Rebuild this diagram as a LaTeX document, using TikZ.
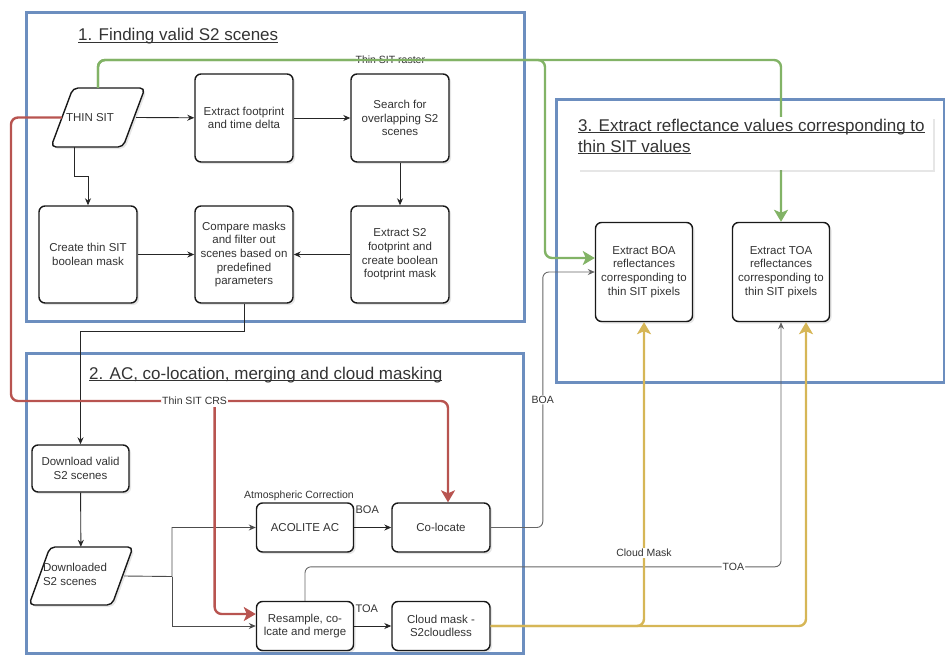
\documentclass[tikz,border=0pt]{standalone}
\usepackage{fontspec}
\setmainfont{Liberation Sans}
\usepackage{tikz}
\usetikzlibrary{arrows.meta,shadows}
\usepackage{xcolor}
\definecolor{drawblue}{HTML}{6C8EBF}
\definecolor{drawgreen}{HTML}{82B366}
\definecolor{drawred}{HTML}{B85450}
\definecolor{drawyellow}{HTML}{D6B656}
\newcommand{\undl}[1]{\setbox0\hbox{#1}\rlap{\rule[-1.8pt]{\wd0}{0.8pt}}\box0}

\begin{document}
\begin{tikzpicture}[x=1pt,y=-1pt,
    box/.style={draw=black!90,line width=1.4pt,rounded corners=6pt,fill=white,
      align=center,text=black!80,inner sep=1pt,font=\fontsize{11.5}{13.7}\selectfont,
      drop shadow={shadow xshift=2pt,shadow yshift=-2pt,opacity=.2}},
    para/.style={draw=black!90,line width=1.4pt,rounded corners=5pt,fill=white,
      drop shadow={shadow xshift=2pt,shadow yshift=-2pt,opacity=.2}},
    iotext/.style={inner sep=1pt,text=black!80,font=\fontsize{11.5}{13.7}\selectfont},
    title/.style={inner sep=0pt,text=black!80,font=\fontsize{17}{21}\selectfont},
    lbl/.style={fill=white,inner sep=1pt,text=black!80,font=\fontsize{10.5}{12}\selectfont},
    arr/.style={draw=black!85,line width=.9pt,-{Stealth[length=7pt,width=6pt]}},
    grayarr/.style={arr,draw=black!60,rounded corners=6pt},
    fat/.style={line width=2.4pt,rounded corners=7pt,-{Stealth[length=12pt,width=14pt,inset=3pt]}},
    frame/.style={draw=drawblue,line width=3pt}]
  \newcommand{\ioshape}[7]{%
    \draw[para] (#2,#3) ++(-#4/2,#5/2) -- ++(#6,-#5) -- ++(#4-#6,0) -- ++(-#6,#5) -- cycle;
    \node[iotext,minimum width=#4pt,minimum height=#5pt] (#1) at (#2,#3) {#7};
  }
  \useasboundingbox (0,0) rectangle (945,656);
  \draw[frame] (26,12) rectangle (524,321);
  \draw[frame] (26,353) rectangle (523,653);
  \draw[frame] (556,99) rectangle (944,382);

  \node[title,anchor=base west] (t1) at (78,40.5) {\undl{1. Finding valid S2 scenes}};
  \node[title,anchor=base west] (t2) at (89,379) {\undl{2. AC, co-location, merging and cloud masking}};

  \ioshape{thin}{98}{117.5}{94}{59}{22}{\hspace*{-16pt}THIN SIT}
  \node[box,minimum width=98pt,minimum height=88pt] (foot) at (244,118) {Extract footprint\\and time delta};
  \node[box,minimum width=98pt,minimum height=88pt] (search) at (400,118) {Search for\\overlapping S2\\scenes};
  \node[box,minimum width=98pt,minimum height=97pt] (mask) at (88,254.5) {Create thin SIT\\boolean mask};
  \node[box,minimum width=98pt,minimum height=97pt] (compare) at (244,254.5) {Compare masks\\and filter out\\scenes based on\\predefined\\parameters};
  \node[box,minimum width=98pt,minimum height=97pt] (s2fp) at (400,254.5) {Extract S2\\footprint and\\create boolean\\footprint mask};

  \node[box,minimum width=97pt,minimum height=47pt] (dl) at (80.5,468.5) {Download valid\\S2 scenes};
  \ioshape{dwn}{81}{576}{104}{58}{21}{\hspace*{-12pt}\begin{tabular}{@{}l@{}}Downloaded\\S2 scenes\end{tabular}}
  \node[box,minimum width=97pt,minimum height=49pt,
    label={[lbl,xshift=-6pt]above:Atmospheric Correction}] (acolite) at (305,527.5) {ACOLITE AC};
  \node[box,minimum width=98pt,minimum height=49pt] (coloc) at (441,527.5) {Co-locate};
  \node[box,minimum width=97pt,minimum height=49pt] (resamp) at (305,626) {Resample, co-\\lcate and merge};
  \node[box,minimum width=98pt,minimum height=49pt] (cloud) at (441,626) {Cloud mask -\\S2cloudless};

  \node[box,minimum width=97pt,minimum height=99pt] (boa) at (644,272) {Extract BOA\\reflectances\\corresponding to\\thin SIT pixels};
  \node[box,minimum width=97pt,minimum height=99pt] (toa) at (781,272) {Extract TOA\\reflectances\\corresponding to\\thin SIT pixels};

  \draw[arr] ([xshift=-9pt]thin.east) -- (foot);
  \draw[arr] (foot) -- (search);
  \draw[arr] (search) -- (s2fp);
  \draw[arr] (s2fp) -- (compare);
  \draw[arr] (mask) -- (compare);
  \draw[arr] ([xshift=-24pt]thin.south) -- ++(0,29) -| (mask.north);
  \draw[arr] (compare.south) -- ++(0,28) -| (dl.north);
  \draw[arr] (dl) -- (dwn);
  \coordinate (fork) at (172,576.5);
  \draw[arr,draw=black!70] ([xshift=-9pt]dwn.east) -- (fork) |- (acolite.west);
  \draw[arr,draw=black!70] (fork) |- (resamp.west);
  \draw[arr] (acolite) -- node[pos=0,anchor=south west,inner sep=1pt,yshift=12pt,text=black!80,
    font=\fontsize{11}{12}\selectfont] {BOA} (coloc);
  \draw[arr] (resamp) -- node[pos=0,anchor=south west,inner sep=1pt,yshift=12pt,text=black!80,
    font=\fontsize{11}{12}\selectfont] {TOA} (cloud);

  \draw[grayarr] (coloc.east) -| node[lbl,pos=.75] {BOA} ([xshift=-52pt]boa.west) -- (boa.west);
  \draw[grayarr] (resamp.north) -- ++(0,-34) -| node[lbl,pos=.45] {TOA} (toa.south);

  \draw[fat,draw=drawyellow] (cloud.east) -| node[lbl,pos=.62] {Cloud Mask} (boa.south);
  \draw[fat,draw=drawyellow] (cloud.east) -| ([xshift=25pt]toa.south);

  \draw[fat,draw=drawred] ([xshift=11pt]thin.west) -| (11,401) -| node[lbl,pos=.21] {Thin SIT CRS}
    coordinate[pos=.233] (crsfork) ([xshift=7pt]coloc.north);
  \draw[fat,draw=drawred,shorten <=6pt] (crsfork) |- ([yshift=12pt]resamp.west);

  \draw[fat,draw=drawgreen] (thin.north) |- node[lbl,pos=.827] {Thin SIT raster}
    (545,60) |- ([yshift=14pt]boa.west);
  \draw[fat,draw=drawgreen] (thin.north) |- (toa.north |- 0,60) -- (toa.north);

  \fill[white,drop shadow={shadow xshift=2pt,shadow yshift=-2pt,opacity=.2}] (578,117) rectangle (933,170);
  \node[title,anchor=north west,align=left] (t3) at (578,118.5)
    {\undl{3. Extract reflectance values corresponding to}\\\undl{thin SIT values}};
\end{tikzpicture}
\end{document}
